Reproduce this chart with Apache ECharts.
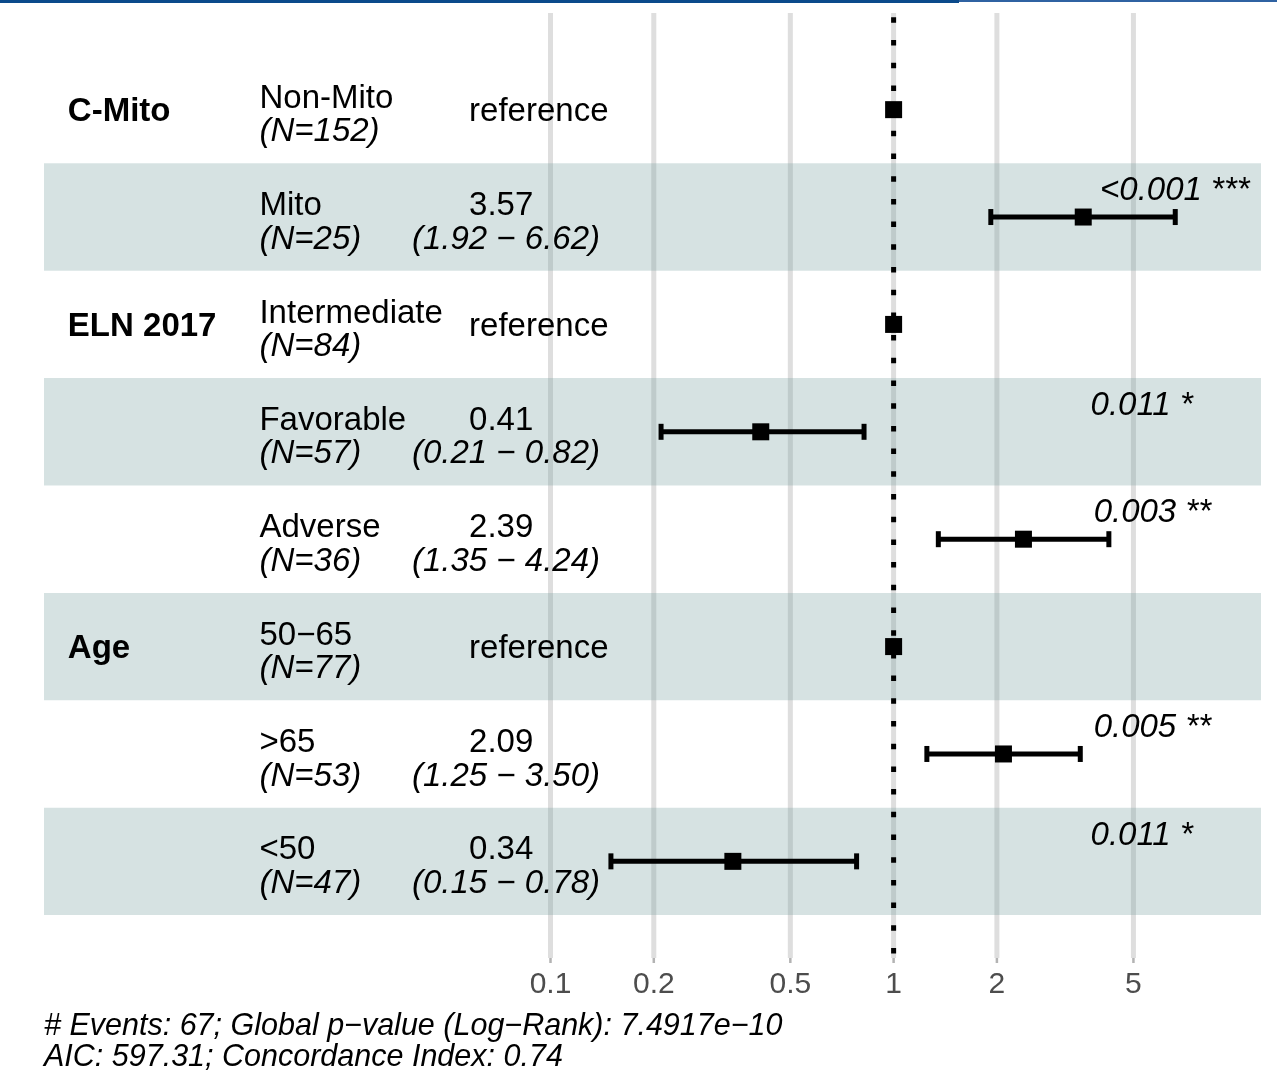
<!DOCTYPE html>
<html>
<head>
<meta charset="utf-8">
<script src="https://cdn.jsdelivr.net/npm/echarts@6/dist/echarts.min.js"></script>
<style>
  html, body { margin: 0; padding: 0; background: #ffffff; }
  #chart { width: 1277px; height: 1074px; }
</style>
</head>
<body>
<div id="chart"></div>
<script>
// Hazard ratios from the Cox model, one row per factor level
const variableNames = ['C-Mito', 'ELN 2017', 'Age'];
const variableFirstRow = [0, 2, 5];
const levels = ['Non-Mito', 'Mito', 'Intermediate', 'Favorable', 'Adverse', '50−65', '>65', '<50'];
const counts = [152, 25, 84, 57, 36, 77, 53, 47];
const hazardRatio = [1, 3.57, 1, 0.41, 2.39, 1, 2.09, 0.34];
const ciLower = [null, 1.92, null, 0.21, 1.35, null, 1.25, 0.15];
const ciUpper = [null, 6.62, null, 0.82, 4.24, null, 3.50, 0.78];
const isReference = [true, false, true, false, false, true, false, false];
const pValueLabels = ['', '<0.001', '', '0.011', '0.003', '', '0.005', '0.011'];
const significanceStars = ['', '***', '', '*', '**', '', '**', '*'];
const tickValues = [0.1, 0.2, 0.5, 1, 2, 5];
const tickLabels = ['0.1', '0.2', '0.5', '1', '2', '5'];
const footerLines = [
  '# Events: 67; Global p−value (Log−Rank): 7.4917e−10',
  'AIC: 597.31; Concordance Index: 0.74'
];

// Layout
const FONT = "'Liberation Sans', Arial, Helvetica, sans-serif";
const TABLE_SIZE = 33;
const X_MIN = 0.00334, X_MAX = 11.77;     // panel range on the log axis
const Y_MIN = -0.9, Y_MAX = 7.9;          // row positions, with expansion
// text column anchors, expressed in hazard-ratio units on the log axis
const COL_VARIABLE = 0.00392;
const COL_LEVEL = 0.01418;
const COL_CI = 0.03946;
const COL_ESTIMATE = 0.0579;
const COL_STARS = 3.27;
// vertical offsets of the text lines within a row (px)
const UPPER_LINE = -11, LOWER_LINE = 22.5, MID_LINE = 2, STARS_LINE = -26;

const measureCtx = document.createElement('canvas').getContext('2d');
function textWidth(text, style, size) {
  measureCtx.font = style + ' ' + size + 'px ' + FONT;
  return measureCtx.measureText(text).width;
}

function label(text, x, y, opts) {
  opts = opts || {};
  return {
    type: 'text',
    style: {
      x: x, y: y, text: text,
      fill: opts.fill || '#000000',
      fontFamily: FONT,
      fontSize: opts.fontSize || TABLE_SIZE,
      fontWeight: opts.fontWeight || 'normal',
      fontStyle: opts.fontStyle || 'normal',
      align: opts.align || 'left',
      verticalAlign: 'middle'
    }
  };
}

const rowIndex = levels.map((_, i) => i);

const chart = echarts.init(document.getElementById('chart'), null, { renderer: 'canvas' });

chart.setOption({
  animation: false,
  backgroundColor: '#ffffff',
  grid: { left: 44, right: 16, top: 13, bottom: 116 },
  xAxis: {
    type: 'log', min: X_MIN, max: X_MAX,
    axisLine: { show: false }, axisTick: { show: false },
    axisLabel: { show: false }, splitLine: { show: false }
  },
  yAxis: {
    type: 'value', inverse: true, min: Y_MIN, max: Y_MAX,
    axisLine: { show: false }, axisTick: { show: false },
    axisLabel: { show: false }, splitLine: { show: false }
  },
  graphic: [
    { type: 'rect', shape: { x: 0, y: 0, width: 959, height: 3 }, style: { fill: '#0b4a8b' } },
    { type: 'rect', shape: { x: 959, y: 0, width: 318, height: 2 }, style: { fill: '#2f62a2' } },
    {
      type: 'text', left: 44, top: 1011,
      style: {
        text: footerLines.join('\n'), fill: '#000000', fontFamily: FONT,
        fontSize: 30.5, fontStyle: 'italic', lineHeight: 31
      }
    }
  ],
  series: [
    {
      // vertical grid lines, ticks and tick labels at the breaks
      type: 'custom', z: 1, silent: true,
      data: tickValues.map(v => [v, 0]),
      renderItem: function (params, api) {
        const cs = params.coordSys;
        const x = api.coord([api.value(0), 0])[0];
        const bottom = cs.y + cs.height;
        return {
          type: 'group',
          children: [
            { type: 'line', shape: { x1: x, y1: cs.y, x2: x, y2: bottom }, style: { stroke: '#dedede', lineWidth: 5 } },
            { type: 'line', shape: { x1: x, y1: bottom, x2: x, y2: bottom + 5 }, style: { stroke: '#b3b3b3', lineWidth: 2.5 } },
            label(tickLabels[params.dataIndex], x, bottom + 27, { align: 'center', fill: '#4d4d4d', fontSize: 30 })
          ]
        };
      }
    },
    {
      // shaded background for every other row
      type: 'custom', z: 2, silent: true,
      data: rowIndex.filter(r => r % 2 === 1).map(r => [1, r]),
      renderItem: function (params, api) {
        const cs = params.coordSys;
        const r = api.value(1);
        const top = api.coord([1, r - 0.5])[1];
        const bot = api.coord([1, r + 0.5])[1];
        return {
          type: 'rect',
          shape: { x: cs.x, y: top, width: cs.width, height: bot - top },
          style: { fill: 'rgba(120,160,160,0.3)' }
        };
      }
    },
    {
      // dotted line at HR = 1
      type: 'custom', z: 3, silent: true,
      data: [[1, 0]],
      renderItem: function (params, api) {
        const cs = params.coordSys;
        const x = api.coord([api.value(0), 0])[0];
        return {
          type: 'line',
          shape: { x1: x, y1: cs.y, x2: x, y2: cs.y + cs.height },
          style: { stroke: '#000000', lineWidth: 5, lineDash: [5.5, 17.2], lineDashOffset: 18.4 }
        };
      }
    },
    {
      // confidence intervals
      type: 'custom', z: 4, silent: true,
      encode: { x: [0, 1], y: 2 },
      data: rowIndex.filter(i => !isReference[i]).map(i => [ciLower[i], ciUpper[i], i]),
      renderItem: function (params, api) {
        const r = api.value(2);
        const pLo = api.coord([api.value(0), r]);
        const pHi = api.coord([api.value(1), r]);
        const y = pLo[1];
        const st = { stroke: '#000000', lineWidth: 5 };
        return {
          type: 'group',
          children: [
            { type: 'line', shape: { x1: pLo[0], y1: y, x2: pHi[0], y2: y }, style: st },
            { type: 'line', shape: { x1: pLo[0], y1: y - 8, x2: pLo[0], y2: y + 8 }, style: st },
            { type: 'line', shape: { x1: pHi[0], y1: y - 8, x2: pHi[0], y2: y + 8 }, style: st }
          ]
        };
      }
    },
    {
      // point estimates
      type: 'scatter', z: 5, silent: true,
      symbol: 'rect', symbolSize: 17,
      itemStyle: { color: '#000000', opacity: 1 },
      data: hazardRatio.map((h, i) => [h, i])
    },
    {
      // table text: variable, level, N, estimate, CI, p-value
      type: 'custom', z: 6, silent: true,
      data: rowIndex.map(i => [1, i]),
      renderItem: function (params, api) {
        const i = api.value(1);
        const y = api.coord([1, i])[1];
        const xOf = v => api.coord([v, i])[0];
        const children = [];
        const vIdx = variableFirstRow.indexOf(i);
        if (vIdx >= 0) {
          children.push(label(variableNames[vIdx], xOf(COL_VARIABLE), y + MID_LINE, { fontWeight: 'bold' }));
        }
        children.push(label(levels[i], xOf(COL_LEVEL), y + UPPER_LINE));
        children.push(label('(N=' + counts[i] + ')', xOf(COL_LEVEL), y + LOWER_LINE, { fontStyle: 'italic' }));
        if (isReference[i]) {
          children.push(label('reference', xOf(COL_ESTIMATE), y + MID_LINE));
        } else {
          children.push(label(hazardRatio[i].toFixed(2), xOf(COL_ESTIMATE), y + UPPER_LINE));
          children.push(label('(' + ciLower[i].toFixed(2) + ' − ' + ciUpper[i].toFixed(2) + ')',
            xOf(COL_CI), y + LOWER_LINE, { fontStyle: 'italic' }));
          const p = pValueLabels[i] + ' ' + significanceStars[i];
          const w = textWidth(p, 'italic', TABLE_SIZE);
          children.push(label(p, xOf(COL_STARS) + 0.2 * w, y + STARS_LINE, { fontStyle: 'italic' }));
        }
        return { type: 'group', children: children };
      }
    }
  ]
});
</script>
</body>
</html>
